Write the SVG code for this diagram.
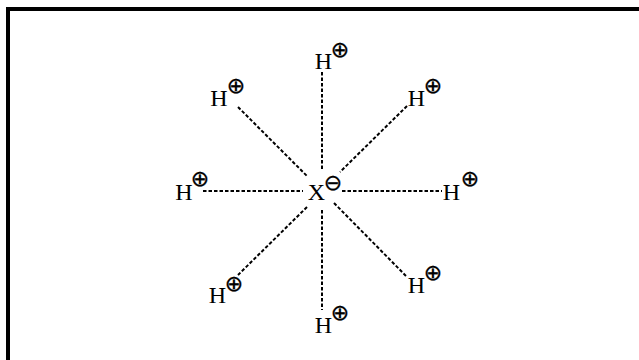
<svg xmlns="http://www.w3.org/2000/svg" width="639" height="360" viewBox="0 0 639 360">
<style>
.h{font-family:"Liberation Serif",serif;font-size:24px;fill:#000;text-anchor:middle}
.c{font-family:"DejaVu Sans",sans-serif;font-size:22px;fill:#000;stroke:#000;stroke-width:0.3;text-anchor:middle;dominant-baseline:central}
.d{stroke:#000;stroke-width:2;stroke-dasharray:3.5 2;fill:none}
</style>
<rect x="8" y="9" width="700" height="400" fill="#fff" stroke="#000" stroke-width="4"/>
<g id="connectors">
<line class="d" x1="322" y1="72" x2="322" y2="170"/>
<line class="d" x1="238" y1="107" x2="308" y2="177"/>
<line class="d" x1="407" y1="106" x2="340" y2="172"/>
<line class="d" x1="203" y1="191" x2="303" y2="191"/>
<line class="d" x1="342" y1="191" x2="442" y2="191"/>
<line class="d" x1="307" y1="207" x2="238" y2="275"/>
<line class="d" x1="322" y1="210" x2="322" y2="310"/>
<line class="d" x1="334" y1="203" x2="406" y2="276"/>
</g>
<g id="X"><text class="h" x="316.5" y="200">X</text><text class="c" x="333" y="182.5">⊖</text></g>
<g id="H-top"><text class="h" x="323.5" y="69">H</text><text class="c" x="340" y="49">⊕</text></g>
<g id="H-upper-left"><text class="h" x="219" y="106">H</text><text class="c" x="236" y="85.5">⊕</text></g>
<g id="H-upper-right"><text class="h" x="416.5" y="106">H</text><text class="c" x="433" y="85.5">⊕</text></g>
<g id="H-left"><text class="h" x="184" y="200">H</text><text class="c" x="200" y="178.5">⊕</text></g>
<g id="H-right"><text class="h" x="451.5" y="200">H</text><text class="c" x="470" y="178.5">⊕</text></g>
<g id="H-lower-left"><text class="h" x="217.5" y="303">H</text><text class="c" x="234" y="283.5">⊕</text></g>
<g id="H-bottom"><text class="h" x="323.5" y="333">H</text><text class="c" x="340" y="312.5">⊕</text></g>
<g id="H-lower-right"><text class="h" x="416.5" y="293">H</text><text class="c" x="433" y="272.5">⊕</text></g>
</svg>
